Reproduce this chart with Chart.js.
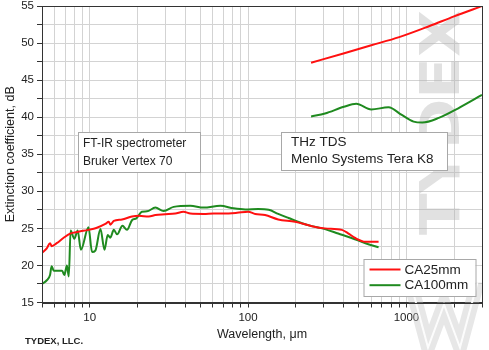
<!DOCTYPE html>
<html><head><meta charset="utf-8">
<script src="https://cdn.jsdelivr.net/npm/chart.js@4/dist/chart.umd.min.js"></script>
<style>html,body{margin:0;padding:0;background:#fff;}canvas{display:block;}</style>
</head><body>
<canvas id="c" width="489" height="350"></canvas>
<script>
// ---- data ----
const seriesLabels = ['CA25mm', 'CA100mm'];
const seriesColors = ['#ff1010', '#1f8a1f'];

const ca25FtirX = [5.0, 5.36, 5.62, 5.75, 6.19, 6.82, 7.52, 8.49, 9.8, 11.0, 12.56, 13.2, 13.5, 14.2, 16.0, 18.5, 20.4, 23.6, 26.0, 30.0, 34.7, 39.1, 43.2, 52.5, 60.6, 70.0, 85.2, 100, 111, 128, 155, 198, 253, 306, 391, 431, 475, 551, 667];
const ca25FtirY = [21.7, 22.3, 23.0, 22.6, 23.0, 23.7, 24.3, 24.55, 24.8, 25.05, 25.6, 25.9, 25.5, 26.0, 26.2, 26.6, 26.7, 26.6, 26.8, 26.9, 27.0, 27.25, 27.0, 26.95, 27.0, 27.0, 27.1, 27.25, 26.95, 26.8, 26.2, 25.9, 25.3, 25.0, 24.8, 24.3, 23.7, 23.2, 23.2];

const ca100FtirX = [5.0, 5.36, 5.62, 5.75, 5.93, 6.35, 6.70, 6.92, 7.18, 7.38, 7.58, 8.0, 8.4, 8.8, 9.83, 10.35, 10.86, 11.7, 12.4, 13.0, 13.5, 14.2, 14.9, 16.1, 17.2, 18.5, 19.7, 21.4, 23.0, 26.0, 29.3, 33.9, 43.2, 52.4, 66.8, 81.0, 96, 116, 135, 155, 180, 219, 253, 306, 371, 450, 551, 667];
const ca100FtirY = [17.5, 18.0, 18.7, 19.9, 19.3, 19.3, 19.3, 18.7, 20.0, 18.5, 24.7, 23.6, 24.7, 22.1, 25.15, 21.8, 22.0, 24.9, 22.1, 24.1, 23.75, 24.8, 24.2, 25.35, 24.8, 26.1, 26.35, 27.25, 27.3, 27.8, 27.35, 27.9, 28.05, 27.8, 28.05, 27.7, 27.55, 27.6, 27.5, 26.95, 26.4, 25.7, 25.3, 24.9, 24.3, 23.7, 23.0, 22.45];

const ca25ThzX = [250, 400, 600, 900, 1400, 2000, 3000];
const ca25ThzY = [47.35, 48.6, 49.7, 50.8, 52.3, 53.6, 55.0];

const ca100ThzX = [250, 306, 402, 482, 600, 770, 935, 1110, 1260, 1600, 2124, 3000];
const ca100ThzY = [40.1, 40.5, 41.4, 41.8, 41.05, 41.33, 40.3, 39.4, 39.28, 39.9, 41.2, 43.0];

const xTickValues = [5, 6, 7, 8, 9, 10, 20, 30, 40, 50, 60, 70, 80, 90, 100, 200, 300, 400, 500, 600, 700, 800, 900, 1000, 2000, 3000];
const xTickLabels = ['10', '100', '1000'];
const yTickValues = [15, 17.5, 20, 22.5, 25, 27.5, 30, 32.5, 35, 37.5, 40, 42.5, 45, 47.5, 50, 52.5, 55];
const yTickLabels = ['15', '20', '25', '30', '35', '40', '45', '50', '55'];

const xTitle = 'Wavelength, \u03bcm';
const yTitle = 'Extinction coefficient, dB';
const noteFtir = ['FT-IR spectrometer', 'Bruker Vertex 70'];
const noteThz = ['THz TDS', 'Menlo Systems Tera K8'];
const footer = 'TYDEX, LLC.';
const watermark = 'TYDEX';

// ---- build datasets ----
const pts = (xs, ys) => xs.map((x, i) => ({x: x, y: ys[i]}));
const FONT = '"Liberation Sans", Arial, sans-serif';

function ds(label, color, data) {
  return {label, data, borderColor: color, backgroundColor: color, borderWidth: 2,
    pointRadius: 0, cubicInterpolationMode: 'monotone', fill: false};
}

const decorations = {
  id: 'decorations',
  beforeDatasetsDraw(chart) {
    const ctx = chart.ctx, a = chart.chartArea;
    ctx.save();
    // watermark text
    ctx.fillStyle = 'rgba(175,175,175,0.38)';
    ctx.font = 'bold 55px "DejaVu Sans", sans-serif';
    const w = ctx.measureText(watermark).width;
    ctx.translate(a.right - 23.5, a.top + 116.5);
    ctx.rotate(-Math.PI / 2);
    ctx.scale(225 / w, 1);
    ctx.textAlign = 'center';
    ctx.textBaseline = 'alphabetic';
    ctx.fillText(watermark, 0, 0);
    ctx.restore();
    // W logo
    ctx.save();
    ctx.beginPath();
    ctx.rect(a.right - 78, a.bottom - 20, 78, 70);
    ctx.clip();
    const R = a.right, B = a.bottom;
    ctx.lineJoin = 'miter';
    ctx.strokeStyle = 'rgba(185,185,185,0.35)';
    ctx.lineWidth = 14;
    ctx.beginPath();
    ctx.moveTo(R - 72, B - 22); ctx.lineTo(R - 54, B + 45); ctx.lineTo(R - 38, B + 2);
    ctx.lineTo(R - 22, B + 45); ctx.lineTo(R - 4, B - 22);
    ctx.stroke();
    ctx.strokeStyle = 'rgba(255,255,255,0.9)';
    ctx.lineWidth = 2;
    ctx.stroke();
    ctx.restore();
  },
  afterDatasetsDraw(chart) {
    const ctx = chart.ctx, a = chart.chartArea;
    ctx.save();
    function box(x, y, w, h) {
      ctx.fillStyle = '#fff';
      ctx.fillRect(x, y, w, h);
      ctx.strokeStyle = '#a8a8a8';
      ctx.lineWidth = 1;
      ctx.strokeRect(x + 0.5, y + 0.5, w, h);
    }
    // FT-IR note
    box(78, 132, 122, 40);
    ctx.fillStyle = '#222';
    ctx.textBaseline = 'middle';
    ctx.textAlign = 'left';
    ctx.font = '12px ' + FONT;
    ctx.fillText(noteFtir[0], 83, 143.5);
    ctx.fillText(noteFtir[1], 83, 162);
    // THz note
    box(281, 132, 166, 38);
    ctx.font = '13.5px ' + FONT;
    ctx.fillStyle = '#222';
    ctx.fillText(noteThz[0], 291, 142);
    ctx.fillText(noteThz[1], 291, 159);
    // legend
    const lx = a.right - 118.5, ly = a.bottom - 43.5;
    box(lx, ly, 112, 37);
    ctx.font = '13.5px ' + FONT;
    chart.data.datasets.slice(0, 2).forEach((d, i) => {
      const yy = ly + 10.5 + i * 15.7;
      ctx.strokeStyle = d.borderColor;
      ctx.lineWidth = 2;
      ctx.beginPath(); ctx.moveTo(lx + 6, yy); ctx.lineTo(lx + 37, yy); ctx.stroke();
      ctx.fillStyle = '#222';
      ctx.fillText(d.label, lx + 41, yy + 0.5);
    });
    ctx.restore();
  },
  afterDraw(chart) {
    const ctx = chart.ctx, a = chart.chartArea;
    ctx.save();
    ctx.strokeStyle = '#333';
    ctx.lineWidth = 1;
    ctx.strokeRect(Math.round(a.left) + 0.5, Math.round(a.top) + 0.5, Math.round(a.right - a.left), Math.round(a.bottom - a.top));
    ctx.fillStyle = '#222';
    ctx.font = 'bold 9.5px ' + FONT;
    ctx.textAlign = 'left';
    ctx.textBaseline = 'middle';
    ctx.fillText(footer, 25, 341);
    ctx.restore();
  }
};

new Chart(document.getElementById('c'), {
  type: 'line',
  data: {
    datasets: [
      ds(seriesLabels[0], seriesColors[0], pts(ca25FtirX, ca25FtirY)),
      ds(seriesLabels[1], seriesColors[1], pts(ca100FtirX, ca100FtirY)),
      ds(seriesLabels[0], seriesColors[0], pts(ca25ThzX, ca25ThzY)),
      ds(seriesLabels[1], seriesColors[1], pts(ca100ThzX, ca100ThzY))
    ]
  },
  options: {
    responsive: false,
    animation: false,
    devicePixelRatio: 1,
    layout: {padding: {left: 0, right: 7, top: 6, bottom: 0}},
    plugins: {legend: {display: false}, tooltip: {enabled: false}},
    scales: {
      x: {
        type: 'logarithmic', min: 5, max: 3000,
        afterBuildTicks: s => { s.ticks = xTickValues.map(v => ({value: v})); },
        afterFit: s => { s.height = 47.5; },
        ticks: {autoSkip: false, maxRotation: 0, minRotation: 0, color: '#222', padding: 3,
          font: {family: FONT, size: 11.5},
          callback: v => xTickLabels.includes(String(v)) ? String(v) : ''},
        grid: {color: '#d3d3d3', lineWidth: 1, tickColor: '#333', tickLength: 5},
        border: {color: '#333', width: 1},
        title: {display: true, text: xTitle, color: '#222', font: {family: FONT, size: 12.5},
          padding: {top: 0, bottom: 8}}
      },
      y: {
        type: 'linear', min: 15, max: 55,
        afterBuildTicks: s => { s.ticks = yTickValues.map(v => ({value: v})); },
        afterFit: s => { s.width = 42; s.paddingTop = 0; s.paddingBottom = 0; },
        ticks: {autoSkip: false, color: '#222', padding: 3, font: {family: FONT, size: 11.5},
          callback: v => yTickLabels.includes(String(v)) ? String(v) : ''},
        grid: {color: '#d3d3d3', lineWidth: 1, tickColor: '#333', tickLength: 5},
        border: {color: '#333', width: 1},
        title: {display: true, text: yTitle, color: '#222', font: {family: FONT, size: 12.5},
          padding: {top: 3, bottom: 0}}
      }
    }
  },
  plugins: [decorations]
});
</script>
</body></html>
